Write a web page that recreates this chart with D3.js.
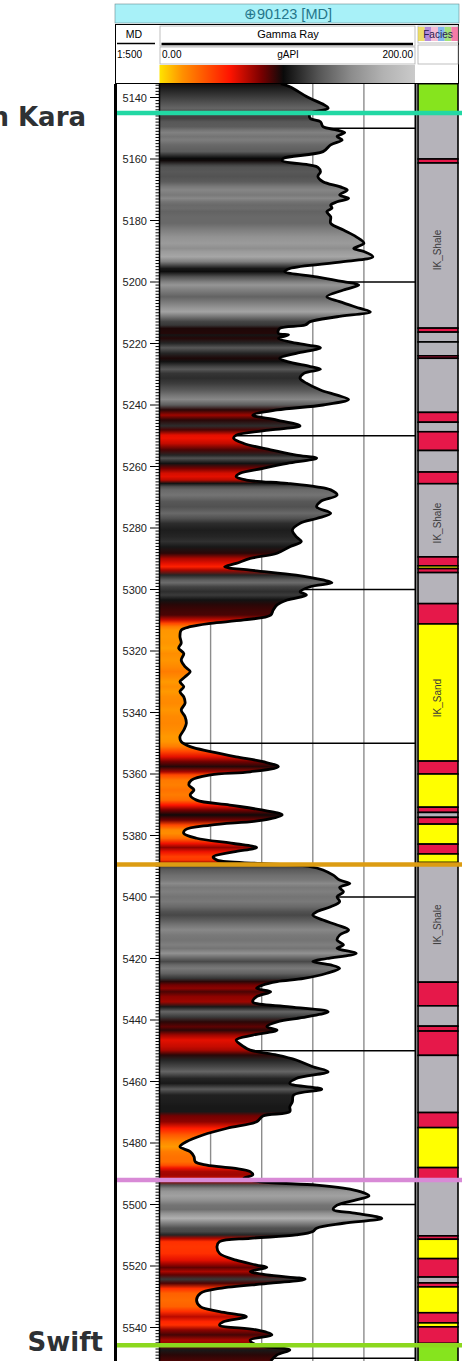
<!DOCTYPE html>
<html>
<head>
<meta charset="utf-8">
<script src="https://cdn.jsdelivr.net/npm/d3@7/dist/d3.min.js"></script>
<style>
  body { margin: 0; background: #fff; }
  svg { display: block; font-family: "Liberation Sans", Arial, sans-serif; }
</style>
</head>
<body>
<div id="chart"></div>
<script>
// gamma ray curve (ft MD, gAPI)
var depth = [5135.5,5136.5,5139.7,5143.5,5145.1,5146.8,5147.9,5149.5,5150.6,5151.4,5152.7,5153.8,5155.4,5157.6,5159.8,5160.5,
  5162.0,5162.7,5164.1,5165.7,5167.4,5169.0,5170.1,5171.7,5172.8,5173.9,5175.0,5176.0,5177.1,5178.8,5180.9,5183.1,5185.3,
  5187.4,5189.1,5190.1,5191.8,5193.4,5195.6,5196.6,5198.3,5199.9,5201.0,5202.6,5204.8,5206.4,5208.6,5209.7,5211.3,5212.9,
  5214.0,5215.1,5216.7,5217.2,5218.3,5219.9,5221.4,5223.2,5224.8,5225.9,5227.5,5228.4,5229.7,5231.3,5232.9,5235.1,5236.8,
  5238.2,5240.0,5241.6,5243.3,5244.9,5246.8,5248.1,5249.8,5250.8,5252.5,5254.6,5256.3,5257.3,5259.0,5260.6,5262.2,5263.3,
  5264.4,5265.5,5266.6,5267.6,5269.3,5271.4,5273.1,5275.2,5276.9,5278.5,5280.7,5282.8,5284.4,5286.1,5288.2,5289.9,5291.5,
  5292.6,5293.7,5295.3,5296.9,5297.8,5299.1,5300.7,5301.8,5303.4,5305.0,5306.7,5308.3,5309.9,5311.0,5312.1,5313.2,5315.3,
  5317.4,5319.1,5320.8,5323.0,5325.1,5326.7,5328.4,5330.0,5331.6,5333.2,5334.9,5337.0,5339.2,5341.4,5343.5,5345.7,5347.9,
  5349.5,5351.1,5352.7,5354.4,5356.0,5357.6,5359.3,5360.3,5362.0,5363.6,5365.2,5366.8,5368.5,5370.1,5371.7,5373.3,5375.0,
  5376.6,5378.2,5379.3,5380.9,5382.6,5383.9,5385.3,5386.9,5388.0,5389.1,5390.1,5391.2,5392.9,5394.5,5395.6,5396.9,5398.3,
  5399.9,5401.5,5403.2,5404.8,5405.9,5407.5,5409.1,5410.7,5412.4,5414.0,5415.6,5416.7,5418.3,5420.0,5421.0,5422.1,5423.2,
  5424.8,5426.5,5427.5,5428.6,5429.7,5430.8,5432.4,5434.1,5435.7,5437.3,5439.0,5440.6,5442.2,5443.3,5444.9,5446.5,5448.7,
  5449.8,5451.4,5453.0,5455.2,5456.8,5459.0,5460.6,5462.5,5464.4,5466.6,5468.2,5469.8,5471.2,5473.1,5475.2,5477.4,5479.6,
  5481.2,5482.8,5484.4,5486.1,5487.2,5488.2,5489.3,5490.4,5491.5,5492.6,5493.7,5494.7,5495.8,5497.2,5498.5,5500.2,5501.6,
  5502.9,5504.5,5506.1,5507.7,5508.8,5509.9,5511.0,5512.1,5513.7,5515.9,5518.1,5519.7,5520.5,5521.8,5522.9,5524.3,5525.6,
  5527.3,5528.9,5531.1,5533.2,5534.8,5536.5,5538.1,5539.2,5540.8,5542.4,5544.1,5545.7,5547.3,5548.9,5550.9];
var gr = [95,102,115,132,118,118,126,128,139,145,139,143,134,128,97,96,
  118,124,126,124,128,141,147,141,148,139,134,135,131,134,134,144,154,
  160,152,160,167,144,102,98,123,144,156,144,131,141,157,165,139,118,
  114,94,93,101,93,107,126,107,94,100,118,126,113,110,115,126,139,
  148,128,92,73,92,110,87,60,58,66,87,107,123,100,81,63,60,
  68,100,123,134,139,126,123,134,123,110,104,107,111,102,92,71,60,
  51,71,107,128,135,118,110,115,100,92,89,87,66,40,24,17,16,
  17,15,19,17,20,24,20,16,19,16,19,20,17,20,21,19,16,
  17,24,40,60,81,93,71,40,25,23,27,24,29,55,80,96,81,
  40,20,19,29,58,76,58,42,45,79,118,128,136,141,149,141,144,
  139,141,134,123,120,128,139,148,141,139,144,139,154,131,120,134,141,
  131,113,92,81,76,87,76,73,102,132,115,92,84,92,73,60,66,
  71,92,107,120,132,107,102,127,105,104,102,102,81,76,53,34,21,
  16,24,27,28,37,58,71,73,66,79,123,144,157,164,154,139,136,
  154,174,144,123,120,107,71,47,45,47,60,76,84,71,84,114,87,
  47,32,29,32,47,68,50,47,76,88,71,76,102,92,87];

// facies column intervals
var faciesTop  = [5135.5,5145,5160,5161.3,5215,5216.3,5219.5,5224,5224.8,5242.4,5245.6,5248.7,5254.8,5261.8,5265.6,5289.4,
  5292.3,5293.2,5294.5,5304.6,5311.2,5355.8,5360,5370.8,5372.5,5374.1,5376.3,5382.8,5386,5388.8,5427.7,5435.4,5442,5443.6,
  5451.5,5470.1,5475,5488,5491.8,5510.2,5511.3,5517.6,5523.6,5525.5,5526.8,5535.2,5538.5,5539.8,5545.2];
var faciesBase = [5145,5160,5161.3,5215,5216.3,5219.5,5224,5224.8,5242.4,5245.6,5248.7,5254.8,5261.8,5265.6,5289.4,5292.3,
  5293.2,5294.5,5304.6,5311.2,5355.8,5360,5370.8,5372.5,5374.1,5376.3,5382.8,5386,5388.8,5427.7,5435.4,5442,5443.6,5451.5,
  5470.1,5475,5488,5491.8,5510.2,5511.3,5517.6,5523.6,5525.5,5526.8,5535.2,5538.5,5539.8,5545.2,5552];
var faciesCode = ['top','shale','red','shale','red','shale','shale','red','shale','red','shale','red','shale','red','shale','red',
  'sand','red','shale','red','sand','red','sand','red','shale','red','sand','red','sand','shale','red','shale','red','red',
  'shale','red','sand','red','shale','red','sand','red','shale','red','sand','red','sand','red','top'];
var faciesColor = { top: '#86e41e', shale: '#b5b3ba', red: '#e6184a', sand: '#ffff00' };
var faciesLabelDepth = [5189.6, 5278.4, 5335.3, 5409];
var faciesLabelText = ['IK_Shale', 'IK_Shale', 'IK_Sand', 'IK_Shale'];

// well tops
var topDepth = [5145, 5389.4, 5492, 5545.8];
var topColor = ['#22d8a4', '#dc9c12', '#d88ad6', '#8cd81e'];
var topName = ['n Kara', '', '', 'Swift'];

// scales / ticks
var mdLabels = d3.range(5140, 5541, 20);
var grGrid = [40, 80, 120, 160];
var depthGrid = d3.range(5150, 5551, 50);
var colorStops = [0, 18, 55, 80, 97, 125, 150, 175, 200];
var colorHex = ['#ffe400', '#ff9000', '#ff1400', '#780000', '#0a0a0a', '#565656', '#8c8c8c', '#b2b2b2', '#cacaca'];

var W = 462, H = 1361;
var trackTop = 84;
var svg = d3.select('#chart').append('svg').attr('width', W).attr('height', H);
var defs = svg.append('defs');

var y = d3.scaleLinear().domain([5140, 5540]).range([97.5, 1327.5]);
var x = d3.scaleLinear().domain([0, 200]).range([159.5, 415]);
var color = d3.scaleLinear().domain(colorStops).range(colorHex);

var pts = depth.map(function(d, i) { return { depth: d, gr: gr[i] }; });

// ---- header ----
svg.append('rect').attr('x', 115).attr('y', 4).attr('width', 344).attr('height', 19)
  .attr('fill', '#a8f1f8').attr('stroke', '#6a8a90').attr('stroke-width', 0.6);
svg.append('text').attr('x', 288).attr('y', 19).attr('text-anchor', 'middle')
  .attr('font-size', 14.5).attr('fill', '#24768a').text('\u229590123 [MD]');

svg.append('rect').attr('x', 115.5).attr('y', 24.5).attr('width', 343).attr('height', 59)
  .attr('fill', '#fff').attr('stroke', '#000').attr('stroke-width', 1);
// cell boxes
[[160, 26, 255, 20], [160, 47, 255, 17], [418, 26, 40, 17], [418, 45, 40, 19]].forEach(function(b) {
  svg.append('rect').attr('x', b[0]).attr('y', b[1]).attr('width', b[2]).attr('height', b[3])
    .attr('fill', 'none').attr('stroke', '#b0b0b0').attr('stroke-width', 0.8);
});
svg.append('text').attr('x', 134).attr('y', 38).attr('text-anchor', 'middle').attr('font-size', 10.5).text('MD');
svg.append('line').attr('x1', 117).attr('x2', 155).attr('y1', 43.5).attr('y2', 43.5).attr('stroke', '#000').attr('stroke-width', 1.5);
svg.append('text').attr('x', 288).attr('y', 38).attr('text-anchor', 'middle').attr('font-size', 11).text('Gamma Ray');
svg.append('line').attr('x1', x(0) + 2).attr('x2', x(200) - 2).attr('y1', 44).attr('y2', 44).attr('stroke', '#000').attr('stroke-width', 2.5);
svg.append('text').attr('x', 117).attr('y', 58).attr('font-size', 10).text('1:500');
svg.append('text').attr('x', 162).attr('y', 58).attr('font-size', 10).text('0.00');
svg.append('text').attr('x', 288).attr('y', 58).attr('text-anchor', 'middle').attr('font-size', 10).text('gAPI');
svg.append('text').attr('x', 413).attr('y', 58).attr('text-anchor', 'end').attr('font-size', 10).text('200.00');

// facies header (multicoloured)
var fh = ['#e6d23a', '#9a62cc', '#f2a6c4', '#5a9ee8', '#86d84a', '#f0508a'];
fh.forEach(function(c, i) {
  svg.append('rect').attr('x', 418 + i * 40 / fh.length).attr('y', 27).attr('width', 40 / fh.length).attr('height', 14)
    .attr('fill', c).attr('opacity', 0.75);
});
svg.append('text').attr('x', 438).attr('y', 38).attr('text-anchor', 'middle').attr('font-size', 10)
  .attr('fill', '#2a2050').text('Facies');

// colour bar
var barGrad = defs.append('linearGradient').attr('id', 'bar').attr('x1', 0).attr('x2', 1).attr('y1', 0).attr('y2', 0);
colorStops.forEach(function(v, i) {
  barGrad.append('stop').attr('offset', v / 200).attr('stop-color', colorHex[i]);
});
svg.append('rect').attr('x', x(0)).attr('y', 65).attr('width', x(200) - x(0)).attr('height', 18).attr('fill', 'url(#bar)');

// ---- tracks ----
svg.append('clipPath').attr('id', 'trk').append('rect')
  .attr('x', 0).attr('y', trackTop).attr('width', W).attr('height', H - trackTop);
var trk = svg.append('g').attr('clip-path', 'url(#trk)');

// grid behind fill
trk.selectAll('.vg').data(grGrid).enter().append('line')
  .attr('x1', function(d) { return x(d); }).attr('x2', function(d) { return x(d); })
  .attr('y1', trackTop).attr('y2', H).attr('stroke', '#8c8c8c').attr('stroke-width', 1.4);
trk.selectAll('.hg').data(depthGrid).enter().append('line')
  .attr('x1', x(0)).attr('x2', x(200))
  .attr('y1', function(d) { return y(d); }).attr('y2', function(d) { return y(d); })
  .attr('stroke', '#000').attr('stroke-width', 1.5);

// fill coloured by GR value
var y0 = y(depth[0]), y1 = y(depth[depth.length - 1]);
var fillGrad = defs.append('linearGradient').attr('id', 'grfill').attr('gradientUnits', 'userSpaceOnUse')
  .attr('x1', 0).attr('x2', 0).attr('y1', y0).attr('y2', y1);
pts.forEach(function(p) {
  fillGrad.append('stop').attr('offset', (y(p.depth) - y0) / (y1 - y0)).attr('stop-color', color(p.gr));
});

var curve = d3.curveCatmullRom.alpha(0.5);
var area = d3.area().y(function(d) { return y(d.depth); }).x0(x(0)).x1(function(d) { return x(d.gr); }).curve(curve);
var line = d3.line().x(function(d) { return x(d.gr); }).y(function(d) { return y(d.depth); }).curve(curve);

trk.append('path').datum(pts).attr('d', area).attr('fill', 'url(#grfill)');
trk.append('path').datum(pts).attr('d', line).attr('fill', 'none')
  .attr('stroke', '#000').attr('stroke-width', 2.8).attr('stroke-linejoin', 'round');

// track borders
trk.append('line').attr('x1', 115.5).attr('x2', 115.5).attr('y1', trackTop).attr('y2', H).attr('stroke', '#000').attr('stroke-width', 3);
trk.append('line').attr('x1', x(0)).attr('x2', x(0)).attr('y1', trackTop).attr('y2', H).attr('stroke', '#000').attr('stroke-width', 1.5);
trk.append('line').attr('x1', x(200) + 0.5).attr('x2', x(200) + 0.5).attr('y1', trackTop).attr('y2', H).attr('stroke', '#000').attr('stroke-width', 2);

// MD ticks and labels
var minor = d3.range(5136, 5551, 1);
trk.selectAll('.mt').data(minor).enter().append('line')
  .attr('x1', function(d) { return d % 20 === 0 ? 150 : 155.5; }).attr('x2', x(0))
  .attr('y1', function(d) { return y(d); }).attr('y2', function(d) { return y(d); })
  .attr('stroke', '#000').attr('stroke-width', 1);
trk.selectAll('.ml').data(mdLabels).enter().append('text')
  .attr('x', 147).attr('y', function(d) { return y(d) + 4; })
  .attr('text-anchor', 'end').attr('font-size', 11).attr('fill', '#222')
  .text(function(d) { return d; });

// facies column
var fac = trk.append('g');
fac.selectAll('rect').data(faciesCode).enter().append('rect')
  .attr('x', 418).attr('width', 40)
  .attr('y', function(d, i) { return y(faciesTop[i]); })
  .attr('height', function(d, i) { return y(faciesBase[i]) - y(faciesTop[i]); })
  .attr('fill', function(d) { return faciesColor[d]; })
  .attr('stroke', '#000').attr('stroke-width', 1.6);
fac.selectAll('text').data(faciesLabelText).enter().append('text')
  .attr('transform', function(d, i) { return 'translate(441,' + y(faciesLabelDepth[i]) + ') rotate(-90)'; })
  .attr('text-anchor', 'middle').attr('font-size', 10).attr('fill', '#3a3a3a')
  .text(function(d) { return d; });

// well top lines
trk.selectAll('.top').data(topDepth).enter().append('line')
  .attr('x1', 117).attr('x2', W)
  .attr('y1', function(d) { return y(d); }).attr('y2', function(d) { return y(d); })
  .attr('stroke', function(d, i) { return topColor[i]; }).attr('stroke-width', 4.5);

// well top names on the left
svg.selectAll('.tn').data(topName).enter().append('text')
  .attr('x', function(d, i) { return i === 0 ? 86 : 103; })
  .attr('y', function(d, i) { return y(topDepth[i]) + (i === 0 ? 13 : 6); })
  .attr('text-anchor', 'end').attr('font-family', '"DejaVu Sans", Verdana, sans-serif')
  .attr('font-size', 26).attr('font-weight', 'bold').attr('fill', '#2e3134')
  .text(function(d) { return d; });
</script>
</body>
</html>
